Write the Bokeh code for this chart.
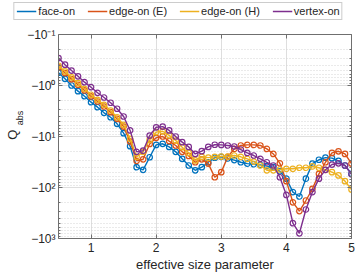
import math
from bokeh.plotting import figure
from bokeh.layouts import column, row
from bokeh.models import (Range1d, FixedTicker, CustomJSTickFormatter, LinearAxis, LogAxis,
                          Legend, LegendItem, CustomLabelingPolicy)
from bokeh.core.properties import value
from bokeh.embed import file_html
from bokeh.resources import INLINE

x_vals = [0.5, 0.6, 0.7, 0.8, 0.9, 1.0, 1.1, 1.2, 1.3, 1.4, 1.5, 1.6, 1.7, 1.8, 1.9,
          2.0, 2.1, 2.2, 2.3, 2.4, 2.5, 2.6, 2.7, 2.8, 2.9, 3.0, 3.1, 3.2, 3.3, 3.4,
          3.5, 3.6, 3.7, 3.8, 3.9, 4.0, 4.1, 4.2, 4.3, 4.4, 4.5, 4.6, 4.7, 4.8, 4.9, 5.0]

# Q_abs values (negative)
face_on = [-0.56, -0.74, -1.0, -1.29, -1.62, -2.12, -2.66, -3.43, -4.19, -5.64, -8.6,
           -15.5, -40, -45, -25.5, -14.6, -13.9, -16, -20, -27.4, -37, -46, -40, -32,
           -26, -25, -27, -29, -32, -34, -35, -36, -38, -40, -48, -67, -123, -150, -67,
           -34, -28.6, -26, -26.6, -30, -37, -54]
edge_on_E = [-0.44, -0.57, -0.75, -0.97, -1.25, -1.64, -2.06, -2.58, -3.34, -4.5, -6.4,
             -12.5, -30, -28, -14, -10.6, -10, -12.3, -15, -20, -24, -32, -28, -34,
             -63, -50, -25, -17.5, -15, -14.6, -14.6, -15, -17.5, -22, -33.5, -75, -195,
             -290, -180, -106, -54, -32, -21, -19.5, -22, -34]
edge_on_H = [-0.41, -0.53, -0.69, -0.90, -1.16, -1.52, -1.91, -2.39, -3.09, -4.19, -5.9,
             -11.1, -25, -20, -11.6, -8.2, -7.9, -9.5, -12, -16.2, -21, -29.5, -25, -26,
             -25, -24.7, -24.7, -23.6, -25, -27.4, -31, -37, -46, -46, -44.4, -43, -43,
             -41, -41, -38.7, -41, -45, -50, -58, -75, -110]
vertex_on = [-0.29, -0.39, -0.51, -0.66, -0.86, -1.08, -1.39, -1.72, -2.18, -2.86, -4.05,
             -7.6, -20, -19, -9.6, -6.6, -6.4, -7.6, -10, -12.9, -16, -22, -19.4, -16,
             -14.5, -14.6, -15, -15.7, -18, -21, -23.6, -27.4, -32, -37, -63, -140, -500,
             -790, -270, -123, -67, -45, -35.5, -33.5, -37, -55]

series_names = ["face-on", "edge-on (E)", "edge-on (H)", "vertex-on"]
series_colors = ["#0072BD", "#D95319", "#EDB120", "#7E2F8E"]
series_data = [face_on, edge_on_E, edge_on_H, vertex_on]

y_major = [0.1, 1, 10, 100, 1000]
y_minor = [m * 10 ** e for e in range(-1, 3) for m in range(2, 10)]
x_major = [1, 2, 3, 4, 5]

axis_color = "#6f6f6f"
text_color = "#262626"
FONT = "Liberation Sans"

# ---------------- main plot ----------------
p = figure(width=332, height=252, x_range=Range1d(0.5, 5), y_range=Range1d(1000, 0.1),
           y_axis_type="log", output_backend="svg", toolbar_location=None,
           min_border_left=33, min_border_right=3, min_border_top=12, min_border_bottom=36)

yfmt = CustomJSTickFormatter(code="""
const sup = {'-':'\u207b','0':'\u2070','1':'\u00b9','2':'\u00b2','3':'\u00b3','4':'\u2074',
             '5':'\u2075','6':'\u2076','7':'\u2077','8':'\u2078','9':'\u2079'};
const e = Math.round(Math.log10(tick));
return '\u221210' + String(e).split('').map(c => sup[c]).join('');
""")

p.yaxis.ticker = FixedTicker(ticks=y_major, minor_ticks=y_minor)
p.yaxis.formatter = yfmt
p.xaxis.ticker = FixedTicker(ticks=x_major)

for ax in (p.xaxis[0], p.yaxis[0]):
    ax.axis_line_color = axis_color
    ax.major_tick_line_color = axis_color
    ax.minor_tick_line_color = axis_color
    ax.major_tick_in = 4
    ax.major_tick_out = 0
    ax.minor_tick_in = 2
    ax.minor_tick_out = 0
    ax.major_label_text_font = FONT
    ax.major_label_text_font_size = "12px"
    ax.major_label_text_color = text_color
p.yaxis.major_label_standoff = 3
p.xaxis.major_label_standoff = 4
p.xaxis.minor_tick_line_color = None
p.xaxis.axis_label = "effective size parameter"
p.xaxis.axis_label_text_font = FONT
p.xaxis.axis_label_text_font_size = "13px"
p.xaxis.axis_label_text_font_style = "normal"
p.xaxis.axis_label_text_color = text_color
p.xaxis.axis_label_standoff = 2

hide_all = CustomLabelingPolicy(code="""
for (const i of Array.from(indices)) { indices.unset(i) }
return indices
""")
top_ax = LinearAxis(ticker=FixedTicker(ticks=x_major))
right_ax = LogAxis(ticker=FixedTicker(ticks=y_major, minor_ticks=y_minor))
for ax in (top_ax, right_ax):
    ax.axis_line_color = axis_color
    ax.major_tick_line_color = axis_color
    ax.minor_tick_line_color = axis_color
    ax.major_tick_in = 4
    ax.major_tick_out = 0
    ax.minor_tick_in = 2
    ax.minor_tick_out = 0
    ax.major_label_text_font_size = "1px"
    ax.major_label_standoff = 0
    ax.major_label_policy = hide_all
top_ax.minor_tick_line_color = None
p.add_layout(top_ax, "above")
p.add_layout(right_ax, "right")

p.xgrid.grid_line_color = "#dedede"
p.ygrid.grid_line_color = "#dedede"
p.ygrid.minor_grid_line_color = "#d4d4d4"
p.ygrid.minor_grid_line_dash = "1 2"
p.outline_line_color = None

for col, data in zip(series_colors, series_data):
    mag = [-v for v in data]
    p.line(x_vals, mag, line_color=col, line_width=1.4)
    p.scatter(x_vals, mag, marker="circle", size=5.5, line_color=col, line_width=1.2,
              fill_color=None)

# ---------------- legend strip ----------------
lg = figure(width=356, height=22, x_range=Range1d(0, 356), y_range=Range1d(22, 0),
            output_backend="svg", toolbar_location=None, x_axis_location=None,
            y_axis_location=None, min_border=0)
lg.grid.visible = False
lg.outline_line_color = None
items = []
for name, col, data in zip(series_names, series_colors, series_data):
    r = lg.line(x_vals, [-v for v in data], line_color=col, line_width=1.4, visible=False)
    items.append(LegendItem(label=name, renderers=[r]))
legend = Legend(items=items, orientation="horizontal", location="center",
                label_text_font=FONT, label_text_font_size="11px",
                label_text_color=text_color, glyph_width=20, glyph_height=12,
                label_standoff=2, spacing=12, padding=2, margin=0,
                border_line_color="#9a9a9a", background_fill_alpha=1.0,
                label_height=12, inactive_fill_alpha=0.0)
lg.add_layout(legend, "center")

# ---------------- y-axis label strip ----------------
yl = figure(width=24, height=252, x_range=Range1d(0, 24), y_range=Range1d(274, 22),
            output_backend="svg", toolbar_location=None, x_axis_location=None,
            y_axis_location=None, min_border=0)
yl.grid.visible = False
yl.outline_line_color = None
yl.text(x=[12], y=[152], text=["Q"], angle=math.pi / 2, text_font=value(FONT),
        text_font_size="13px", text_color=text_color, text_align="left",
        text_baseline="alphabetic")
yl.text(x=[19], y=[134], text=["abs"], angle=math.pi / 2, text_font=value(FONT),
        text_font_size="9px", text_color=text_color, text_align="left",
        text_baseline="alphabetic")

layout = column(lg, row(yl, p, spacing=0), spacing=0)
open("out.html", "w").write(file_html(layout, INLINE))
